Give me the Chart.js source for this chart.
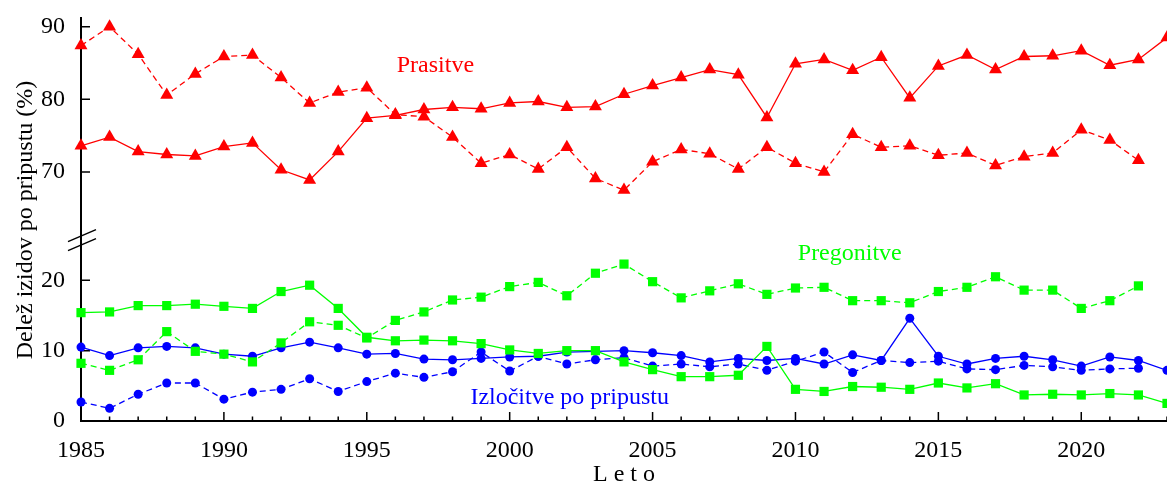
<!DOCTYPE html>
<html>
<head>
<meta charset="utf-8">
<script src="https://cdn.jsdelivr.net/npm/chart.js@4.4.1/dist/chart.umd.min.js"></script>
<style>
  html, body { margin: 0; padding: 0; background: #fff; }
  canvas { display: block; }
</style>
</head>
<body>
<canvas id="grafico" width="1167" height="482"></canvas>
<script>
const leta = [
  1985, 1986, 1987, 1988, 1989, 1990, 1991, 1992, 1993, 1994,
  1995, 1996, 1997, 1998, 1999, 2000, 2001, 2002, 2003, 2004,
  2005, 2006, 2007, 2008, 2009, 2010, 2011, 2012, 2013, 2014,
  2015, 2016, 2017, 2018, 2019, 2020, 2021, 2022, 2023,
];

// prasitve (zgornji del osi)
const prasitvePolna = [
  73.6, 74.8, 72.8, 72.4, 72.2, 73.5, 74.0, 70.3, 68.9, 72.8,
  77.4, 77.8, 78.6, 78.9, 78.7, 79.5, 79.7, 78.9, 79.0, 80.7,
  81.9, 83.0, 84.1, 83.4, 77.5, 84.9, 85.5, 84.0, 85.8, 80.2,
  84.6, 86.1, 84.1, 85.9, 86.0, 86.7, 84.7, 85.5, 88.5,
];
const prasitveCrtkana = [
  87.4, 90.0, 86.2, 80.6, 83.5, 85.9, 86.1, 83.0, 79.5, 81.0,
  81.6, 77.9, 77.6, 74.8, 71.2, 72.4, 70.4, 73.4, 69.1, 67.5,
  71.4, 73.1, 72.5, 70.4, 73.4, 71.2, 70.0, 75.2, 73.4, 73.6,
  72.3, 72.6, 70.9, 72.1, 72.6, 75.8, 74.4, 71.6, null,
];

// pregonitve
const pregonitvePolna = [
  15.4, 15.5, 16.4, 16.4, 16.6, 16.3, 16.0, 18.4, 19.3, 16.0,
  11.9, 11.4, 11.5, 11.4, 11.0, 10.1, 9.6, 10.0, 10.0, 8.4,
  7.3, 6.3, 6.3, 6.5, 10.6, 4.5, 4.2, 4.9, 4.8, 4.5,
  5.4, 4.7, 5.3, 3.7, 3.8, 3.7, 3.9, 3.7, 2.5,
];
const pregonitveCrtkana = [
  8.2, 7.2, 8.7, 12.7, 9.9, 9.5, 8.4, 11.1, 14.1, 13.6,
  11.8, 14.3, 15.5, 17.2, 17.6, 19.1, 19.7, 17.8, 21.0, 22.3,
  19.8, 17.5, 18.5, 19.5, 18.0, 18.9, 19.0, 17.1, 17.1, 16.8,
  18.4, 19.0, 20.5, 18.6, 18.6, 16.0, 17.1, 19.2, null,
];

// izlocitve po pripustu
const izlocitvePolna = [
  10.5, 9.3, 10.4, 10.6, 10.4, 9.5, 9.2, 10.4, 11.2, 10.4,
  9.5, 9.6, 8.8, 8.7, 8.9, 9.1, 9.2, 9.8, 9.9, 10.0,
  9.7, 9.3, 8.4, 8.9, 8.6, 8.9, 8.1, 9.4, 8.6, 14.6,
  9.2, 8.1, 8.9, 9.2, 8.7, 7.8, 9.1, 8.6, 7.2,
];
const izlocitveCrtkana = [
  2.7, 1.8, 3.8, 5.4, 5.4, 3.1, 4.1, 4.5, 6.0, 4.2,
  5.6, 6.8, 6.2, 7.0, 9.8, 7.1, 9.2, 8.1, 8.7, 9.0,
  7.8, 8.1, 7.7, 8.1, 7.2, 8.5, 9.8, 6.9, 8.6, 8.3,
  8.5, 7.4, 7.3, 7.9, 7.7, 7.2, 7.4, 7.5, null,
];

const oznakeLet = [1985, 1990, 1995, 2000, 2005, 2010, 2015, 2020];
const oznakeZgoraj = [70, 80, 90];
const oznakeSpodaj = [0, 10, 20];

const pisava = "Liberation Serif";
const rdeca = "#ff0000";
const zelena = "#00ff00";
const modra = "#0000ff";

/******************************************************************
 * Napisi ob krivuljah (leto, vrednost, os)
 ******************************************************************/
const napisi = [
  { besedilo: "Prasitve", leto: 1997.4, vrednost: 83.8, os: "yZgoraj", barva: rdeca },
  { besedilo: "Pregonitve", leto: 2011.9, vrednost: 22.85, os: "ySpodaj", barva: zelena },
  { besedilo: "Izločitve po pripustu", leto: 2002.1, vrednost: 2.4, os: "ySpodaj", barva: modra },
];

const serija = (podatki, barva, crtkana, oblika, polmer, os) => ({
  data: podatki,
  borderColor: barva,
  backgroundColor: barva,
  pointBackgroundColor: barva,
  borderWidth: 1.3,
  borderDash: crtkana ? [6, 4] : [],
  pointStyle: oblika,
  pointRadius: polmer,
  pointHoverRadius: polmer,
  pointBorderWidth: 0,
  yAxisID: os,
  tension: 0,
  clip: false,
});

/******************************************************************
 * Osi, kljukice in prelom osi
 ******************************************************************/
const osiPlugin = {
  id: "osi",
  beforeDatasetsDraw(chart) {
    const { ctx } = chart;
    const x = chart.scales.x;
    const yZg = chart.scales.yZgoraj;
    const ySp = chart.scales.ySpodaj;
    const levo = x.left;
    const dno = ySp.bottom;
    ctx.save();
    ctx.strokeStyle = "#000";
    ctx.lineWidth = 2;
    ctx.beginPath();
    ctx.moveTo(levo, yZg.top);
    ctx.lineTo(levo, dno);
    ctx.lineTo(x.right, dno);
    ctx.stroke();

    ctx.lineWidth = 1.5;
    ctx.beginPath();
    leta.forEach((leto) => {
      const px = x.getPixelForValue(leto);
      const dolzina = oznakeLet.includes(leto) ? 9 : 4.5;
      ctx.moveTo(px, dno);
      ctx.lineTo(px, dno - dolzina);
    });
    oznakeZgoraj.forEach((v) => {
      const py = yZg.getPixelForValue(v);
      ctx.moveTo(levo, py);
      ctx.lineTo(levo + 9, py);
    });
    oznakeSpodaj.forEach((v) => {
      const py = ySp.getPixelForValue(v);
      ctx.moveTo(levo, py);
      ctx.lineTo(levo + 9, py);
    });
    ctx.stroke();

    // prelom osi
    const prelom = ySp.top;
    ctx.lineWidth = 1.5;
    ctx.beginPath();
    [-4.5, 4.5].forEach((d) => {
      ctx.moveTo(levo - 13, prelom + d + 6);
      ctx.lineTo(levo + 15, prelom + d - 6);
    });
    ctx.stroke();
    ctx.restore();
  },
  afterDatasetsDraw(chart) {
    const { ctx } = chart;
    ctx.save();
    ctx.font = `24px "${pisava}"`;
    ctx.textAlign = "center";
    ctx.textBaseline = "alphabetic";
    napisi.forEach((n) => {
      ctx.fillStyle = n.barva;
      ctx.fillText(
        n.besedilo,
        chart.scales.x.getPixelForValue(n.leto),
        chart.scales[n.os].getPixelForValue(n.vrednost)
      );
    });

    // naslova osi
    ctx.fillStyle = "#000";
    ctx.fillText("L e t o", (chart.scales.x.left + chart.scales.x.right) / 2, 480.5);
    ctx.translate(32, 220);
    ctx.rotate(-Math.PI / 2);
    ctx.fillText("Delež izidov po pripustu (%)", 0, 0);
    ctx.restore();
  },
};

const oznakeOsi = (seznam) => (s) => {
  s.ticks = seznam.map((v) => ({ value: v }));
};

const brezRobov = (s) => {
  s.paddingTop = 0;
  s.paddingBottom = 0;
  s.paddingLeft = 0;
  s.paddingRight = 0;
};

const ticksY = {
  font: { family: pisava, size: 24 },
  color: "#000",
  padding: 8,
  callback: (v) => String(v),
};

new Chart(document.getElementById("grafico"), {
  type: "line",
  data: {
    labels: leta,
    datasets: [
      serija(prasitvePolna, rdeca, false, "triangle", 7.5, "yZgoraj"),
      serija(prasitveCrtkana, rdeca, true, "triangle", 7.5, "yZgoraj"),
      serija(pregonitvePolna, zelena, false, "rect", 6.5, "ySpodaj"),
      serija(pregonitveCrtkana, zelena, true, "rect", 6.5, "ySpodaj"),
      serija(izlocitvePolna, modra, false, "circle", 4.5, "ySpodaj"),
      serija(izlocitveCrtkana, modra, true, "circle", 4.5, "ySpodaj"),
    ],
  },
  options: {
    responsive: false,
    animation: false,
    devicePixelRatio: 1,
    layout: { autoPadding: false, padding: { top: 17, left: 0, right: 0, bottom: 0 } },
    plugins: {
      legend: { display: false },
      tooltip: { enabled: false },
    },
    scales: {
      x: {
        type: "linear",
        min: 1985,
        max: 2023,
        grid: { display: false },
        border: { display: false },
        afterBuildTicks: oznakeOsi(oznakeLet),
        afterFit: (s) => {
          s.height = 61;
          brezRobov(s);
        },
        ticks: {
          font: { family: pisava, size: 24 },
          color: "#000",
          padding: 7,
          autoSkip: false,
          maxRotation: 0,
          callback: (v) => String(v),
        },
      },
      yZgoraj: {
        type: "linear",
        position: "left",
        stack: "y",
        stackWeight: 223,
        weight: 2,
        min: 60.6,
        max: 91.34,
        grid: { display: false },
        border: { display: false },
        afterBuildTicks: oznakeOsi(oznakeZgoraj),
        afterFit: (s) => {
          s.width = 81;
          brezRobov(s);
        },
        ticks: ticksY,
      },
      ySpodaj: {
        type: "linear",
        position: "left",
        stack: "y",
        stackWeight: 180.7,
        weight: 1,
        min: 0,
        max: 25.7,
        grid: { display: false },
        border: { display: false },
        afterBuildTicks: oznakeOsi(oznakeSpodaj),
        afterFit: (s) => {
          s.width = 81;
          brezRobov(s);
        },
        ticks: ticksY,
      },
    },
  },
  plugins: [osiPlugin],
});
</script>
</body>
</html>
